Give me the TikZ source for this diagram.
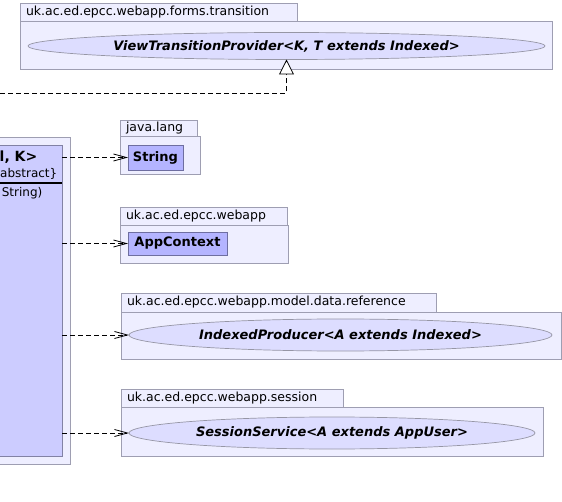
\documentclass[tikz,border=0pt]{standalone}
\usepackage{fontspec}
\setmainfont{DejaVu Sans}
\usetikzlibrary{arrows.meta,shapes.geometric}
\definecolor{pkgfill}{RGB}{238,238,255}
\definecolor{pkgline}{RGB}{158,158,178}
\definecolor{clsfill}{RGB}{204,204,255}
\definecolor{clsline}{RGB}{130,130,165}
\definecolor{reffill}{RGB}{180,180,255}
\definecolor{refline}{RGB}{110,110,160}
\definecolor{ifcfill}{RGB}{221,221,255}
\definecolor{ifcline}{RGB}{150,150,165}
\tikzset{
	pkgtab/.style={draw=pkgline, fill=pkgfill, line width=0.8pt, anchor=north west, outer sep=0pt, inner xsep=6pt, inner ysep=0pt,
		text width=#1, align=left, font=\fontsize{12.5}{14}\selectfont},
	pkgbody/.style={draw=pkgline, fill=pkgfill, line width=0.8pt, anchor=north west, outer sep=0pt, inner sep=0pt},
	refcls/.style={draw=refline, fill=reffill, line width=0.8pt, anchor=north west, outer sep=0pt, inner sep=0pt,
		font=\bfseries\fontsize{13}{15}\selectfont},
	ifc/.style={ellipse, draw=ifcline, fill=ifcfill, line width=0.7pt, outer sep=0pt, inner sep=0pt,
		font=\bfseries\itshape\fontsize{13}{15}\selectfont},
	dep/.style={dash pattern=on 5pt off 3pt, line width=0.8pt, -{Straight Barb[length=13pt,width=7pt]}},
	real/.style={dash pattern=on 5pt off 3pt, line width=0.8pt, -{Triangle[open,length=15pt,width=15pt,fill=white]}}
}

\begin{document}
\begin{tikzpicture}[x=1pt, y=-1pt]
	\useasboundingbox (0,0) rectangle (562,502);
	\clip (0,0) rectangle (562,502);

	\node[pkgtab=265pt, minimum height=18pt] (trtab) at (20,3) {uk.ac.ed.epcc.webapp.forms.transition};
	\node[pkgbody, minimum width=532pt, minimum height=48pt] (trpkg) at (20,21) {};
	\node[ifc, minimum width=517pt, minimum height=27pt] (vtp) at (286.5,46) {ViewTransitionProvider<K, T extends Indexed>};

	\node[pkgbody, anchor=north east, minimum width=85pt, minimum height=327pt] (clspkg) at (70,137) {};
	\node[draw=clsline, fill=clsfill, line width=0.8pt, anchor=north east, outer sep=0pt, minimum width=80pt, minimum height=311pt] (cls) at (62,145) {};
	\node[anchor=east, inner sep=0pt, font=\bfseries\fontsize{14}{17}\selectfont] (clsname) at (37.5,157) {l, K>};
	\node[anchor=east, inner sep=0pt, font=\fontsize{12}{14}\selectfont] (clsstereo) at (57.5,174) {abstract\}};
	\draw[line width=1.5pt] (-10,183) -- (62,183);
	\node[anchor=east, inner sep=0pt, font=\fontsize{12}{14}\selectfont] (clsctor) at (42.5,193) {String)};

	\node[pkgtab=65pt, minimum height=16pt] (langtab) at (120,120) {java.lang};
	\node[pkgbody, minimum width=80pt, minimum height=38pt] (langpkg) at (120,136) {};
	\node[refcls, minimum width=55pt, minimum height=25pt] (str) at (128,145) {String};

	\node[pkgtab=155pt, minimum height=18pt] (apptab) at (120,207) {uk.ac.ed.epcc.webapp};
	\node[pkgbody, minimum width=168pt, minimum height=38pt] (apppkg) at (120,225) {};
	\node[refcls, minimum width=99pt, minimum height=23pt] (ctx) at (128,232) {AppContext};

	\node[pkgtab=303pt, minimum height=19pt] (reftab) at (121,293) {uk.ac.ed.epcc.webapp.model.data.reference};
	\node[pkgbody, minimum width=440pt, minimum height=47pt] (refpkg) at (121,312) {};
	\node[ifc, minimum width=423pt, minimum height=32pt] (idp) at (340.5,335) {IndexedProducer<A extends Indexed>};

	\node[pkgtab=210pt, minimum height=18pt] (sestab) at (121,389) {uk.ac.ed.epcc.webapp.session};
	\node[pkgbody, minimum width=422pt, minimum height=49pt] (sespkg) at (121,407) {};
	\node[ifc, minimum width=406pt, minimum height=32pt] (ses) at (332,433) {SessionService<A extends AppUser>};

	\coordinate (rs) at (0,93);
	\draw[real] (rs) -| (vtp.south);
	\draw[dep] (cls.east |- str.west) -- (str.west);
	\draw[dep] (cls.east |- ctx.west) -- (ctx.west);
	\draw[dep] (cls.east |- idp.west) -- (idp.west);
	\draw[dep] (cls.east |- ses.west) -- (ses.west);
\end{tikzpicture}
\end{document}
